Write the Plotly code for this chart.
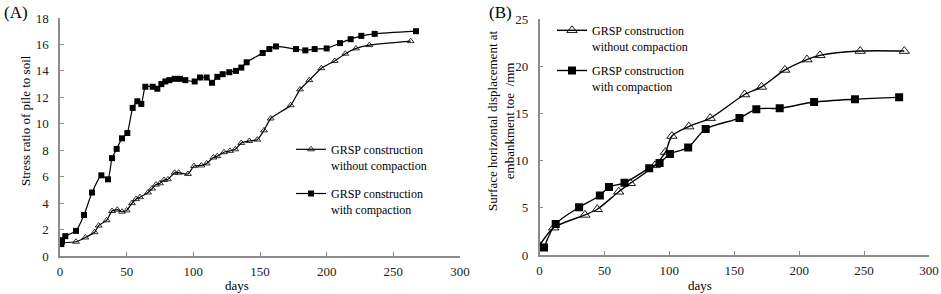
import plotly.graph_objects as go

# ---------- Panel A: stress ratio of pile to soil ----------
days_A_without = [1, 12, 19, 26, 29, 35, 39, 43, 46.5, 50, 54, 57, 60, 66, 69, 72, 75, 78, 81, 86, 89, 96,
                  100.5, 106, 110, 115, 118, 123, 127.5, 131.5, 136, 142, 148, 153, 158, 173, 180, 187, 196,
                  206, 214, 222, 232, 263]
ratio_A_without = [1.0, 1.08, 1.4, 1.8, 2.3, 2.7, 3.4, 3.5, 3.35, 3.45, 4.0, 4.3, 4.45, 4.8, 5.1, 5.4, 5.5,
                   5.75, 5.8, 6.3, 6.3, 6.2, 6.8, 6.85, 7.0, 7.45, 7.55, 7.85, 7.95, 8.07, 8.55, 8.7, 8.8,
                   9.5, 10.4, 11.4, 12.6, 13.3, 14.2, 14.75, 15.3, 15.7, 15.95, 16.25]

days_A_with = [1, 1.5, 4, 12, 18, 24, 31, 36, 39, 42.5, 46.5, 50.5, 54.5, 58, 61, 64, 69.5, 73, 76, 79, 82,
               86, 90, 94, 101, 105, 110, 114, 118, 122, 127, 132, 136, 140, 152, 157, 162, 177, 184, 191,
               200, 210, 218, 226, 236, 267]
ratio_A_with = [0.9, 1.2, 1.5, 1.9, 3.1, 4.8, 6.1, 5.8, 7.4, 8.1, 8.9, 9.3, 11.2, 11.7, 11.5, 12.8, 12.8,
                12.65, 13.0, 13.2, 13.3, 13.4, 13.4, 13.3, 13.2, 13.5, 13.5, 13.1, 13.55, 13.75, 13.9, 14.0,
                14.25, 14.65, 15.35, 15.65, 15.85, 15.65, 15.55, 15.65, 15.7, 16.1, 16.4, 16.65, 16.8, 17.0]

# ---------- Panel B: surface horizontal displacement ----------
days_B_without = [0, 11, 35, 44.5, 61, 70, 89, 97, 102, 115, 131.5, 158, 171, 189, 206, 216, 247, 281]
disp_B_without = [1.0, 2.9, 4.25, 4.85, 6.7, 7.6, 9.5, 10.9, 12.6, 13.6, 14.5, 17.0, 17.8, 19.6, 20.7,
                  21.15, 21.6, 21.6]

days_B_with = [3.5, 12.5, 30.5, 46.5, 53.5, 65.5, 84.5, 92.5, 100.5, 114.5, 128, 154, 167, 185, 211.5, 243, 277]
disp_B_with = [0.8, 3.3, 5.05, 6.3, 7.2, 7.65, 9.2, 9.75, 10.7, 11.4, 13.35, 14.5, 15.45, 15.55, 16.2,
               16.5, 16.7]

x_ticks = [0, 50, 100, 150, 200, 250, 300]
yA_ticks = [0, 2, 4, 6, 8, 10, 12, 14, 16, 18]
yB_ticks = [0, 5, 10, 15, 20, 25]

name_without = "GRSP construction<br>without compaction"
name_with = "GRSP construction<br>with compaction"

FONT = "Liberation Serif"

fig = go.Figure()

line_style = dict(color="black", width=1.2, shape="spline", smoothing=0.5)

fig.add_trace(go.Scatter(x=days_A_without, y=ratio_A_without, mode="lines+markers", name=name_without,
                         line=line_style,
                         marker=dict(symbol="triangle-up-open", size=6, color="black", line=dict(width=0.8)),
                         xaxis="x", yaxis="y", legend="legend", legendgroup="a1"))
fig.add_trace(go.Scatter(x=days_A_with, y=ratio_A_with, mode="lines+markers", name=name_with,
                         line=line_style,
                         marker=dict(symbol="square", size=6, color="black"),
                         xaxis="x", yaxis="y", legend="legend", legendgroup="a2"))

line_style_b = dict(color="black", width=1.4, shape="spline", smoothing=0.8)
fig.add_trace(go.Scatter(x=days_B_without, y=disp_B_without, mode="lines+markers", name=name_without,
                         line=line_style_b,
                         marker=dict(symbol="triangle-up-open", size=9, color="black", line=dict(width=0.9)),
                         xaxis="x2", yaxis="y2", legend="legend2", legendgroup="b1"))
fig.add_trace(go.Scatter(x=days_B_with, y=disp_B_with, mode="lines+markers", name=name_with,
                         line=line_style_b,
                         marker=dict(symbol="square", size=8, color="black"),
                         xaxis="x2", yaxis="y2", legend="legend2", legendgroup="b2"))

axis_common = dict(showline=True, linecolor="#8c8c8c", linewidth=1.5, ticks="inside", ticklen=4,
                   tickcolor="#8c8c8c", tickwidth=1.2, showgrid=False, zeroline=False, automargin=False,
                   tickfont=dict(family=FONT, size=13, color="#222"))

W, H = 941, 294
ml, mr, mt, mb = 60, 12, 18, 38
pw = W - ml - mr
ph = H - mt - mb

legend_font = dict(family=FONT, size=12, color="black")

fig.update_layout(
    width=W, height=H,
    margin=dict(l=ml, r=mr, t=mt, b=mb, autoexpand=False),
    plot_bgcolor="white", paper_bgcolor="white",
    font=dict(family=FONT, size=13, color="black"),
    xaxis=dict(domain=[0, 400 / pw], range=[0, 300], tickvals=x_ticks, anchor="y",
               ticklabelstandoff=3, **axis_common),
    yaxis=dict(domain=[0, 1], range=[0, 18], tickvals=yA_ticks, anchor="x",
               ticklabelstandoff=7, **axis_common),
    xaxis2=dict(domain=[479.5 / pw, 1], range=[0, 300], tickvals=x_ticks, anchor="y2",
                ticklabelstandoff=3, **axis_common),
    yaxis2=dict(domain=[0.004, 0.996], range=[0, 25], tickvals=yB_ticks, anchor="x2",
                ticklabelstandoff=7, **axis_common),
    legend=dict(x=(291 - ml) / pw, y=(256 - 135) / ph, xanchor="left", yanchor="top",
                font=legend_font, valign="top",
                traceorder="grouped", tracegroupgap=10, bgcolor="rgba(0,0,0,0)", itemwidth=30),
    legend2=dict(x=(552 - ml) / pw, y=(256 - 16) / ph, xanchor="left", yanchor="top",
                 font=legend_font, valign="top",
                 traceorder="grouped", tracegroupgap=6, bgcolor="rgba(0,0,0,0)", itemwidth=30),
    showlegend=True,
)

annotations = [
    dict(text="(A)", xref="paper", yref="paper", x=(2 - ml) / pw, y=(256 - 1) / ph,
         xanchor="left", yanchor="top", showarrow=False, font=dict(family=FONT, size=17)),
    dict(text="(B)", xref="paper", yref="paper", x=(487 - ml) / pw, y=(256 - 1) / ph,
         xanchor="left", yanchor="top", showarrow=False, font=dict(family=FONT, size=17)),
    dict(text="days", xref="paper", yref="paper", x=(237 - ml) / pw, y=(256 - 285) / ph,
         xanchor="center", yanchor="middle", showarrow=False, font=dict(family=FONT, size=13)),
    dict(text="days", xref="paper", yref="paper", x=(700 - ml) / pw, y=(256 - 285) / ph,
         xanchor="center", yanchor="middle", showarrow=False, font=dict(family=FONT, size=13)),
    dict(text="Stress ratio of pile to soil", xref="paper", yref="paper", x=(25 - ml) / pw,
         y=(256 - 121) / ph, xanchor="center", yanchor="middle", textangle=-90, showarrow=False,
         font=dict(family=FONT, size=13)),
    dict(text="Surface horizontal displacement at<br>embankment toe  /mm", xref="paper", yref="paper",
         x=(501 - ml) / pw, y=(256 - 121) / ph, xanchor="center", yanchor="middle", textangle=-90,
         showarrow=False, font=dict(family=FONT, size=13)),
]
fig.update_layout(annotations=annotations)

fig.write_html("out.html", config={"displayModeBar": False},
               post_script="document.body.style.margin='0px';")
